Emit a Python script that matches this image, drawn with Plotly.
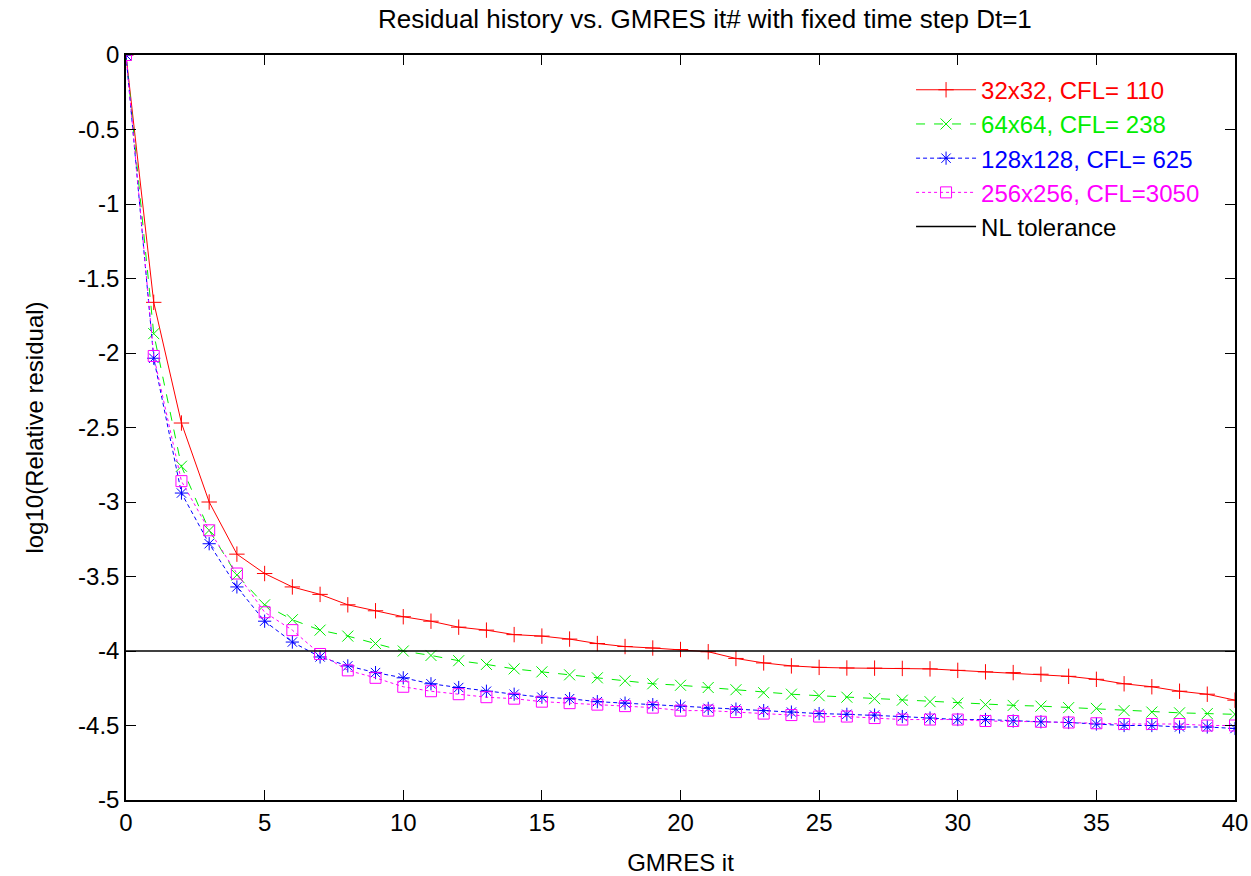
import plotly.graph_objects as go

iters = list(range(0, 41))

res_32 = [0, -1.66, -2.47, -3.00, -3.35, -3.48, -3.57, -3.62, -3.69, -3.73,
          -3.77, -3.80, -3.84, -3.86, -3.89, -3.90, -3.92, -3.95, -3.97, -3.98,
          -3.99, -4.005, -4.05, -4.08, -4.10, -4.11, -4.114, -4.115, -4.117, -4.12,
          -4.13, -4.14, -4.145, -4.156, -4.17, -4.19, -4.22, -4.24, -4.27, -4.29,
          -4.33]
res_64 = [0, -1.87, -2.76, -3.19, -3.49, -3.69, -3.79, -3.86, -3.90, -3.95,
          -4.00, -4.03, -4.065, -4.09, -4.12, -4.14, -4.16, -4.18, -4.20, -4.22,
          -4.23, -4.245, -4.26, -4.28, -4.29, -4.30, -4.31, -4.32, -4.33, -4.34,
          -4.35, -4.36, -4.365, -4.37, -4.38, -4.385, -4.40, -4.41, -4.415, -4.42,
          -4.425]
res_128 = [0, -2.035, -2.94, -3.28, -3.57, -3.80, -3.94, -4.04, -4.10, -4.145,
           -4.18, -4.22, -4.245, -4.27, -4.29, -4.31, -4.32, -4.34, -4.35, -4.36,
           -4.37, -4.385, -4.39, -4.40, -4.41, -4.42, -4.425, -4.43, -4.44, -4.45,
           -4.46, -4.46, -4.47, -4.475, -4.48, -4.49, -4.50, -4.50, -4.51, -4.51,
           -4.52]
res_256 = [0, -2.02, -2.86, -3.19, -3.48, -3.74, -3.86, -4.02, -4.13, -4.18,
           -4.24, -4.27, -4.29, -4.31, -4.32, -4.34, -4.35, -4.36, -4.37, -4.38,
           -4.40, -4.40, -4.41, -4.42, -4.43, -4.44, -4.44, -4.45, -4.46, -4.46,
           -4.46, -4.47, -4.47, -4.475, -4.48, -4.485, -4.49, -4.49, -4.49, -4.50,
           -4.50]
nl_tol_x = [0, 40]
nl_tol = [-4, -4]

names = ["32x32, CFL= 110", "64x64, CFL= 238", "128x128, CFL= 625", "256x256, CFL=3050", "NL tolerance"]
colors = ["#ff0000", "#00ee00", "#0000ff", "#ff00ff", "#000000"]
x_ticks = list(range(0, 41, 5))
y_ticks = [0, -0.5, -1, -1.5, -2, -2.5, -3, -3.5, -4, -4.5, -5]
y_ticktext = ["0", "-0.5", "-1", "-1.5", "-2", "-2.5", "-3", "-3.5", "-4", "-4.5", "-5"]

FONT = "Liberation Sans, Arial, sans-serif"
FS = 24

fig = go.Figure()
series = [
    (res_32, "solid", "cross-thin-open"),
    (res_64, "dash", "x-thin-open"),
    (res_128, "4px,3px", "asterisk-open"),
    (res_256, "dot", "square-open"),
]
for (vals, dash, sym), name, col in zip(series, names[:4], colors[:4]):
    fig.add_trace(go.Scatter(
        x=iters, y=vals, mode="lines+markers",
        name=f'<span style="color:{col}">{name}</span>',
        line=dict(color=col, width=1, dash=dash),
        marker=dict(symbol=sym, size=11, color=col, line=dict(color=col, width=1)),
    ))
fig.add_trace(go.Scatter(
    x=nl_tol_x, y=nl_tol, mode="lines",
    name=f'<span style="color:{colors[4]}">{names[4]}</span>',
    line=dict(color=colors[4], width=1.5),
))

fig.update_layout(
    width=1251, height=876,
    paper_bgcolor="white", plot_bgcolor="white",
    margin=dict(l=126, r=16, t=55, b=76, autoexpand=False),
    font=dict(family=FONT, size=FS, color="black"),
    title=dict(text="Residual history vs. GMRES it# with fixed time step Dt=1",
               x=0.522, xref="paper", xanchor="center", y=0.978, yanchor="middle",
               font=dict(size=26)),
    showlegend=True,
    legend=dict(x=0.973, y=0.983, xanchor="right", yanchor="top",
                bgcolor="rgba(0,0,0,0)", borderwidth=0,
                font=dict(size=FS), tracegroupgap=0, itemwidth=60),
)
fig.update_xaxes(
    range=[0, 40], tickvals=x_ticks, ticktext=[str(v) for v in x_ticks],
    ticks="inside", ticklen=10, tickwidth=1, tickcolor="black",
    showline=True, linecolor="black", linewidth=1.5, mirror="ticks",
    showgrid=False, zeroline=False, automargin=False,
    title=dict(text="GMRES it", font=dict(size=FS), standoff=25),
    tickfont=dict(size=FS),
)
fig.update_yaxes(
    range=[-5, 0], tickvals=y_ticks, ticktext=y_ticktext,
    ticks="inside", ticklen=10, tickwidth=1, tickcolor="black",
    showline=True, linecolor="black", linewidth=1.5, mirror="ticks",
    showgrid=False, zeroline=False, automargin=False,
    title=dict(text="log10(Relative residual)", font=dict(size=FS), standoff=28),
    tickfont=dict(size=FS),
)

fig.write_html("out.html", config={"displayModeBar": False},
               post_script="document.body.style.margin='0';")
